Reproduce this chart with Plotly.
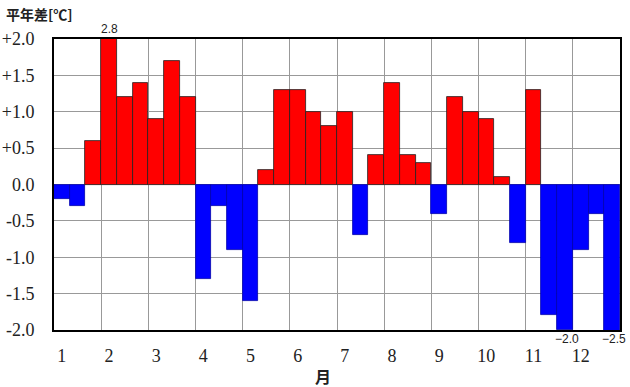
import plotly.graph_objects as go

# 36 ten-day periods (3 per month), anomalies from normal [°C]
values = [-0.2, -0.3, 0.6,
          2.8, 1.2, 1.4,
          0.9, 1.7, 1.2,
          -1.3, -0.3, -0.9,
          -1.6, 0.2, 1.3,
          1.3, 1.0, 0.8,
          1.0, -0.7, 0.4,
          1.4, 0.4, 0.3,
          -0.4, 1.2, 1.0,
          0.9, 0.1, -0.8,
          1.3, -1.8, -2.0,
          -0.9, -0.4, -2.5]
month_labels = [str(m) for m in range(1, 13)]
y_tick_vals = [2.0, 1.5, 1.0, 0.5, 0.0, -0.5, -1.0, -1.5, -2.0]
y_tick_text = ["+2.0", "+1.5", "+1.0", "+0.5", "0.0", "-0.5", "-1.0", "-1.5", "-2.0"]

SERIF = "Liberation Serif, Times New Roman, Times, serif"

x = list(range(len(values)))
colors = ["#FF0000" if v >= 0 else "#0000FF" for v in values]
line_colors = ["#222222" if v >= 0 else "#0000AA" for v in values]

fig = go.Figure()
fig.add_trace(go.Bar(
    x=x, y=values, width=1.0,
    marker=dict(color=colors, line=dict(color=line_colors, width=0.8)),
    hoverinfo="skip",
))

# labels for out-of-range values
for i, v in enumerate(values):
    if v > 2.0:
        fig.add_annotation(x=i, y=2.0, text=f"{v:.1f}", showarrow=False,
                           yanchor="bottom", yshift=1,
                           font=dict(family="Liberation Sans", size=12, color="#222"))
    elif v <= -2.0:
        fig.add_annotation(x=i, y=-2.0, text=f"{v:.1f}".replace("-", "\u2212"), showarrow=False,
                           yanchor="top", yshift=0, xshift=2,
                           font=dict(family="Liberation Sans", size=12, color="#222"))

fig.add_annotation(xref="paper", yref="paper", x=-0.088, y=1.045, xanchor="left", yanchor="bottom",
                   text="<b>平年差[℃]</b>", showarrow=False,
                   font=dict(family="Noto Sans CJK JP", size=14, color="#222"))
fig.add_annotation(xref="paper", yref="paper", x=0.476, y=-0.158, xanchor="center", yanchor="middle",
                   text="<b>月</b>", showarrow=False,
                   font=dict(family="Noto Sans CJK JP", size=16, color="#222"))

fig.update_layout(
    width=630, height=387,
    margin=dict(l=54, r=10, t=39, b=57),
    paper_bgcolor="white", plot_bgcolor="white",
    showlegend=False, bargap=0,
    font=dict(family=SERIF, size=18, color="#222"),
)
fig.update_xaxes(
    range=[-0.5, 35.5],
    tickvals=[3 * m for m in range(12)], ticktext=month_labels,
    showgrid=False, zeroline=False, automargin=False,
    showline=True, linecolor="black", linewidth=2, mirror=True,
    ticks="", ticklen=0, ticklabelstandoff=8,
    minor=dict(tickvals=[3 * m + 2.5 for m in range(11)], showgrid=True,
               gridcolor="#999999", gridwidth=1, ticks=""),
    tickfont=dict(family=SERIF, size=18, color="#222"),
    fixedrange=True,
)
fig.update_yaxes(
    range=[-2.0, 2.0],
    tickvals=y_tick_vals, ticktext=y_tick_text,
    showgrid=True, gridcolor="#999999", gridwidth=1, zeroline=False, automargin=False,
    showline=True, linecolor="black", linewidth=2, mirror=True,
    ticks="", ticklen=0, ticklabelstandoff=14,
    tickfont=dict(family=SERIF, size=18, color="#222"),
    fixedrange=True,
)

fig.write_html("out.html")
